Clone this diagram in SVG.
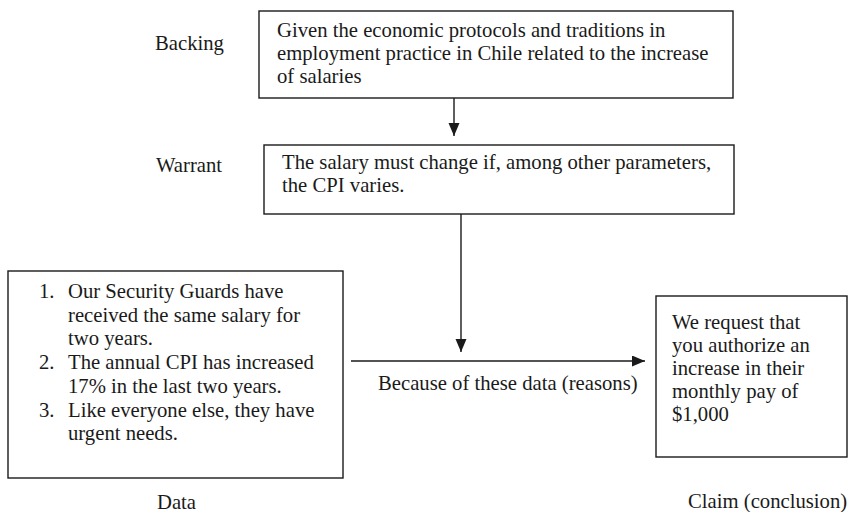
<svg xmlns="http://www.w3.org/2000/svg" width="850" height="512" viewBox="0 0 850 512">
<style>
text{font-family:"Liberation Serif","Times New Roman",serif;font-size:20.7px;fill:#1a1a1a}
.box{fill:#fff;stroke:#1a1a1a;stroke-width:1.4}
.ln{stroke:#1a1a1a;stroke-width:1.4;fill:none}
</style>
<defs>
<marker id="ah" markerUnits="userSpaceOnUse" markerWidth="14" markerHeight="12" refX="13" refY="5.5" orient="auto">
<path d="M0,0 L13,5.5 L0,11 Z" fill="#1a1a1a"/>
</marker>
</defs>
<rect width="850" height="512" fill="#fff"/>
<g id="labels">
<text x="155" y="50">Backing</text>
<text x="156" y="172">Warrant</text>
<text x="157" y="509">Data</text>
<text x="688" y="508">Claim (conclusion)</text>
</g>
<g id="connectors">
<line class="ln" x1="454" y1="98" x2="454" y2="136" marker-end="url(#ah)"/>
<line class="ln" x1="461" y1="214" x2="461" y2="352" marker-end="url(#ah)"/>
<line class="ln" x1="351" y1="361" x2="645" y2="361" marker-end="url(#ah)"/>
<text x="378" y="390">Because of these data (reasons)</text>
</g>
<g id="backing">
<rect class="box" x="259" y="11" width="474" height="87"/>
<text x="277" y="37">Given the economic protocols and traditions in</text>
<text x="277" y="60">employment practice in Chile related to the increase</text>
<text x="277" y="83">of salaries</text>
</g>
<g id="warrant">
<rect class="box" x="264" y="145" width="470" height="69"/>
<text x="282" y="169">The salary must change if, among other parameters,</text>
<text x="282" y="192">the CPI varies.</text>
</g>
<g id="data">
<rect class="box" x="8" y="271" width="335" height="207"/>
<text x="39" y="298">1.</text>
<text x="68" y="298">Our Security Guards have</text>
<text x="68" y="321.7">received the same salary for</text>
<text x="68" y="345.4">two years.</text>
<text x="39" y="369.1">2.</text>
<text x="68" y="369.1">The annual CPI has increased</text>
<text x="68" y="392.8">17% in the last two years.</text>
<text x="39" y="416.5">3.</text>
<text x="68" y="416.5">Like everyone else, they have</text>
<text x="68" y="440.2">urgent needs.</text>
</g>
<g id="claim">
<rect class="box" x="656" y="296" width="191" height="161"/>
<text x="672" y="329">We request that</text>
<text x="672" y="352">you authorize an</text>
<text x="672" y="375">increase in their</text>
<text x="672" y="398">monthly pay of</text>
<text x="672" y="421">$1,000</text>
</g>
</svg>
